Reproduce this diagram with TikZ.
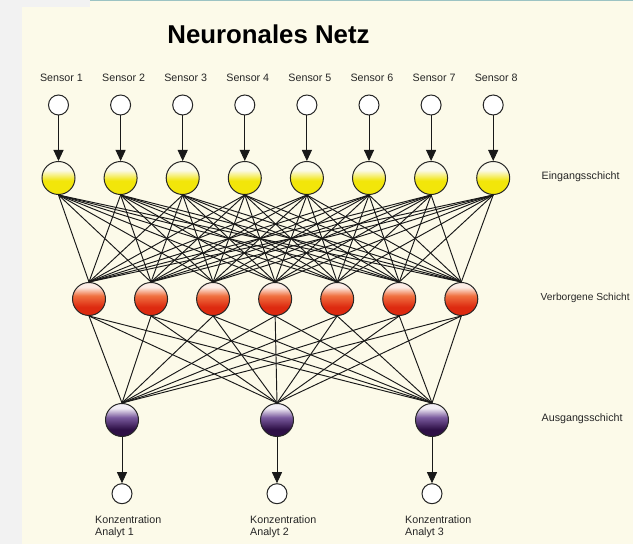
\documentclass[tikz,border=0pt]{standalone}
\usepackage{fontspec}
\setmainfont{Liberation Sans}
\usetikzlibrary{arrows.meta}
\definecolor{cream}{HTML}{FCFAE9}
\definecolor{sidegray}{HTML}{F2F2F2}
\definecolor{topteal}{HTML}{9CC3C3}
\definecolor{yB}{HTML}{F2E60A}
\definecolor{yT}{HTML}{FBFAEC}
\definecolor{rB}{HTML}{DD2A10}
\definecolor{rM}{HTML}{F07040}
\definecolor{rT}{HTML}{FCEDE6}
\definecolor{pB}{HTML}{2E1046}
\definecolor{pM}{HTML}{7A5A9E}
\definecolor{pT}{HTML}{F2EEF6}
\pgfdeclareverticalshading{yshade}{100bp}{color(0bp)=(yB); color(46bp)=(yB); color(62bp)=(yT); color(100bp)=(yT)}
\pgfdeclareverticalshading{rshade}{100bp}{color(0bp)=(rB); color(38bp)=(rB); color(55bp)=(rM); color(68bp)=(rT); color(100bp)=(rT)}
\pgfdeclareverticalshading{pshade}{100bp}{color(0bp)=(pB); color(36bp)=(pB); color(54bp)=(pM); color(68bp)=(pT); color(100bp)=(pT)}
\tikzset{
  neuron/.style={circle, draw=black!85, line width=1pt, inner sep=0pt, minimum size=33pt},
  sensnode/.style={circle, draw=black!85, line width=1pt, fill=white, inner sep=0pt, minimum size=20pt},
  inpnode/.style={neuron, shade, shading=yshade},
  hidnode/.style={neuron, shade, shading=rshade},
  outnode/.style={neuron, shade, shading=pshade},
  conn/.style={draw=black!90, line width=0.95pt},
  arr/.style={draw=black!90, line width=0.9pt, -{Triangle[length=11pt,width=10pt]}},
  lbl/.style={font=\fontsize{10.7}{12.5}\selectfont, text=black!85, inner sep=0pt},
  titlestyle/.style={font=\fontsize{25.8}{28}\selectfont\bfseries, inner sep=0pt}
}
\begin{document}
\begin{tikzpicture}[x=1pt,y=1pt]
\useasboundingbox (0,0) rectangle (633,544);
% background
\fill[sidegray] (0,0) rectangle (633,544);
\fill[cream] (22,0) rectangle (633,537);
\fill[cream] (90,537) rectangle (633,542.5);
\fill[topteal] (90,542.5) rectangle (633,544);
% title
\node[titlestyle] (title) at (268.5,509.5) {Neuronales Netz};
% sensors, input layer
\foreach \i in {1,...,8} {
  \pgfmathsetmacro{\xx}{58.5+62.1*(\i-1)}
  \node[lbl, anchor=base] (sl\i) at (\xx+3,462) {Sensor \i};
  \node[sensnode] (s\i) at (\xx,439) {};
  \node[inpnode] (y\i) at (\xx,366) {};
}
% hidden layer
\foreach \j in {1,...,7} {
  \pgfmathsetmacro{\xx}{89+62.05*(\j-1)}
  \node[hidnode] (h\j) at (\xx,245) {};
}
% output layer
\foreach \k/\xx in {1/122,2/277,3/432} {
  \node[outnode] (o\k) at (\xx,124) {};
  \node[sensnode] (a\k) at (\xx,50.3) {};
  \node[lbl, anchor=base west] (k\k) at (\xx-27,20) {Konzentration};
  \node[lbl, anchor=base west] (n\k) at (\xx-27,8) {Analyt \k};
}
% layer labels
\node[lbl, anchor=base west] (lin) at (541.5,364) {Eingangsschicht};
\node[lbl, anchor=base west, font=\fontsize{10.2}{12}\selectfont] (lhid) at (540.5,243) {Verborgene Schicht};
\node[lbl, anchor=base west] (lout) at (541.5,122) {Ausgangsschicht};
% connections
\foreach \i in {1,...,8} {
  \draw[arr] (s\i) -- (y\i);
  \foreach \j in {1,...,7} { \draw[conn] (y\i.south) -- (h\j.north); }
}
\foreach \j in {1,...,7} {
  \foreach \k in {1,2,3} { \draw[conn] (h\j.south) -- (o\k.north); }
}
\foreach \k in {1,2,3} { \draw[arr] (o\k) -- (a\k); }
\end{tikzpicture}
\end{document}
